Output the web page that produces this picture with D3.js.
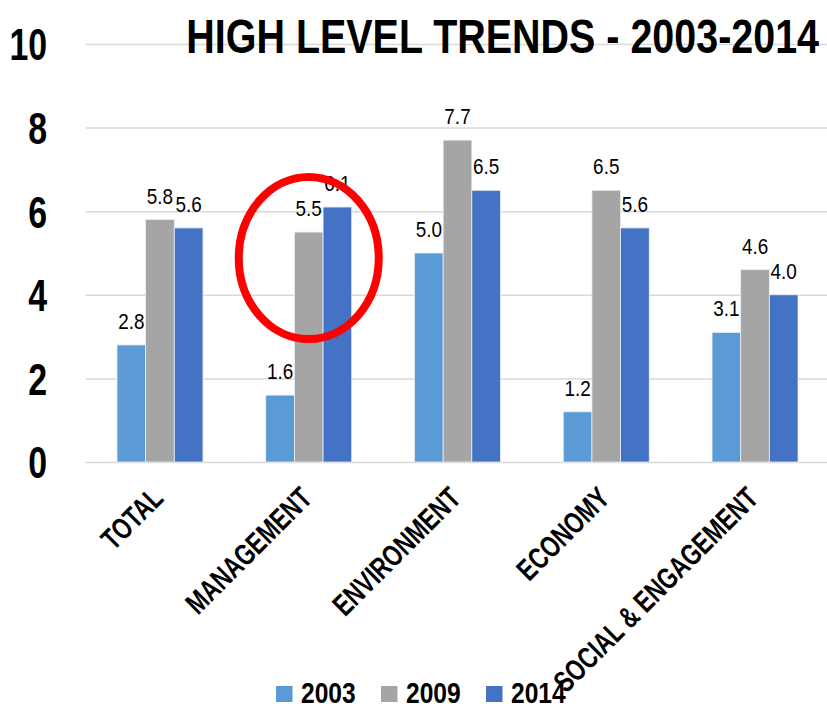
<!DOCTYPE html>
<html>
<head>
<meta charset="utf-8">
<script src="https://cdn.jsdelivr.net/npm/d3@7.9.0/dist/d3.min.js"></script>
<style>
  body { margin: 0; background: #fff; }
  svg text { font-family: "Liberation Sans", Arial, sans-serif; }
</style>
</head>
<body>
<svg width="827" height="707"></svg>
<script>
const categories = ['TOTAL', 'MANAGEMENT', 'ENVIRONMENT', 'ECONOMY', 'SOCIAL & ENGAGEMENT'];
const years = ['2003', '2009', '2014'];
const values2003 = [2.8, 1.6, 5.0, 1.2, 3.1];
const values2009 = [5.8, 5.5, 7.7, 6.5, 4.6];
const values2014 = [5.6, 6.1, 6.5, 5.6, 4.0];
const yTicks = [0, 2, 4, 6, 8, 10];
const colors = ['#5b9bd5', '#a5a5a5', '#4472c4'];

const seriesValues = [values2003, values2009, values2014];

// no narrow font installed, so squeeze the regular one
const squeeze = k => `scale(${k},1)`;

const svg = d3.select('svg');

const x = d3.scaleBand()
    .domain(categories)
    .range([85.6, 829.4])
    .paddingInner(0.422)
    .paddingOuter(0.211);

const xSub = d3.scaleBand()
    .domain(years)
    .range([0, x.bandwidth()]);

const y = d3.scaleLinear().domain([0, 10]).range([462, 44]);

const color = d3.scaleOrdinal().domain(years).range(colors);

// gridlines + y labels
const yAxis = svg.append('g')
    .attr('transform', 'translate(85.6,0)')
    .call(d3.axisLeft(y).tickValues(yTicks).tickSize(-743.8).tickFormat(d3.format('d')));
yAxis.select('.domain').remove();
yAxis.selectAll('.tick line').attr('stroke', '#d9d9d9').attr('stroke-width', 1.5);
yAxis.selectAll('.tick text')
    .attr('x', 0)
    .attr('dy', '0.36em')
    .attr('transform', `translate(-38.5,0) ${squeeze(0.77)}`)
    .attr('fill', '#000')
    .attr('font-size', 44)
    .attr('font-weight', 'bold');

// title
svg.append('text')
    .attr('transform', `translate(819,53) ${squeeze(0.805)}`)
    .attr('text-anchor', 'end')
    .attr('font-size', 49)
    .attr('font-weight', 'bold')
    .text('HIGH LEVEL TRENDS - 2003-2014');

// bars
const rows = categories.map((c, i) => ({
    cat: c,
    vals: years.map((yr, j) => ({ year: yr, value: seriesValues[j][i] }))
}));

const groups = svg.append('g').selectAll('g')
    .data(rows)
    .join('g')
    .attr('transform', d => `translate(${x(d.cat)},0)`);

groups.selectAll('rect')
    .data(d => d.vals)
    .join('rect')
    .attr('x', d => xSub(d.year))
    .attr('y', d => y(d.value))
    .attr('width', xSub.bandwidth())
    .attr('height', d => y(0) - y(d.value))
    .attr('fill', d => color(d.year))
    .attr('stroke', '#e8eef7')
    .attr('stroke-width', 0.8);

groups.selectAll('text')
    .data(d => d.vals)
    .join('text')
    .attr('transform', d => `translate(${xSub(d.year) + xSub.bandwidth() / 2},${y(d.value) - 16}) ${squeeze(0.86)}`)
    .attr('text-anchor', 'middle')
    .attr('font-size', 22)
    .text(d => d3.format('.1f')(d.value));

// category labels
svg.append('g').selectAll('text')
    .data(categories)
    .join('text')
    .attr('text-anchor', 'end')
    .attr('transform', d => `translate(${x(d) + x.bandwidth() / 2 + 5},500) rotate(-45) ${squeeze(0.75)}`)
    .attr('font-size', 30)
    .attr('font-weight', 'bold')
    .text(d => d);

// red ellipse around management
svg.append('ellipse')
    .attr('cx', x('MANAGEMENT') + x.bandwidth() / 2)
    .attr('cy', y(4.88))
    .attr('rx', 70)
    .attr('ry', 81)
    .attr('fill', 'none')
    .attr('stroke', '#ff0000')
    .attr('stroke-width', 8);

// legend
const legend = svg.append('g').attr('transform', 'translate(276,686)');
const legendX = [0, 105, 210];
years.forEach((yr, i) => {
    const g = legend.append('g').attr('transform', `translate(${legendX[i]},0)`);
    g.append('rect').attr('width', 16.5).attr('height', 16).attr('fill', color(yr));
    g.append('text')
        .attr('transform', `translate(25,17) ${squeeze(0.82)}`)
        .attr('font-size', 30)
        .attr('font-weight', 'bold')
        .text(yr);
});
</script>
</body>
</html>
